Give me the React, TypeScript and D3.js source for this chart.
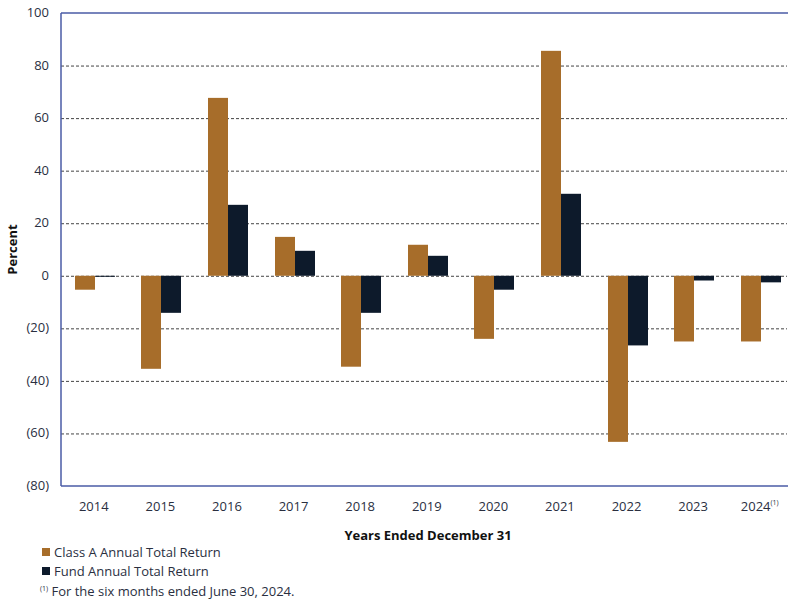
import React, { useEffect, useRef } from 'react';
import * as d3 from 'd3';

const years = ['2014', '2015', '2016', '2017', '2018', '2019', '2020', '2021', '2022', '2023', '2024'];
const classA = [-5.3, -35.4, 67.7, 14.8, -34.6, 11.8, -24.0, 85.6, -63.2, -25.0, -25.0];
const fund = [-0.3, -14.1, 27.0, 9.5, -14.1, 7.6, -5.3, 31.2, -26.5, -1.8, -2.5];
const yTicks = [100, 80, 60, 40, 20, 0, -20, -40, -60, -80];

const seriesNames = ['Class A Annual Total Return', 'Fund Annual Total Return'];
const colors = ['#A76D2A', '#0D1A2B'];
const font = "'Open Sans', sans-serif";

const App: React.FC = () => {
  const svgRef = useRef<SVGSVGElement>(null);

  useEffect(() => {
    if (!svgRef.current) return;
    const width = 788;
    const height = 599;
    const margin = { top: 13, right: 1, bottom: 113, left: 61 };

    const svg = d3.select(svgRef.current);
    svg.selectAll('*').remove();

    // bands run a little past the right edge, as in the original
    const x = d3.scaleBand()
      .domain(years)
      .range([61.5, 794]);

    const y = d3.scaleLinear()
      .domain([-80, 100])
      .range([height - margin.bottom, margin.top]);

    const barW = 20;

    // grid lines
    svg.append('g')
      .selectAll('line')
      .data(yTicks.filter(t => t !== 100 && t !== -80))
      .join('line')
      .attr('x1', margin.left)
      .attr('x2', width - margin.right)
      .attr('y1', d => y(d) + 0.5)
      .attr('y2', d => y(d) + 0.5)
      .attr('stroke', '#444')
      .attr('stroke-width', 1)
      .attr('stroke-dasharray', '3,2');

    const data = years.map((yr, i) => ({ yr, a: classA[i], f: fund[i] }));

    // bars
    [classA, fund].forEach((vals, s) => {
      svg.append('g')
        .selectAll('rect')
        .data(data)
        .join('rect')
        .attr('x', d => Math.round(x(d.yr)! + x.bandwidth() / 2) - barW + s * barW)
        .attr('width', barW)
        .attr('y', (d, i) => y(Math.max(0, vals[i])))
        .attr('height', (d, i) => Math.max(1, Math.abs(y(vals[i]) - y(0))))
        .attr('fill', colors[s]);
    });

    // frame
    const frame = svg.append('g').attr('stroke', '#4A5BA6').attr('stroke-width', 1.5);
    frame.append('line')
      .attr('x1', margin.left).attr('x2', margin.left)
      .attr('y1', y(100)).attr('y2', y(-80));
    frame.append('line')
      .attr('x1', margin.left).attr('x2', width)
      .attr('y1', y(100)).attr('y2', y(100));
    frame.append('line')
      .attr('x1', margin.left).attr('x2', width)
      .attr('y1', y(-80)).attr('y2', y(-80));

    // y tick labels
    svg.append('g')
      .selectAll('text')
      .data(yTicks)
      .join('text')
      .attr('x', 49)
      .attr('y', d => y(d) + 4)
      .attr('text-anchor', 'end')
      .attr('font-family', font)
      .attr('font-size', 13)
      .attr('fill', '#2A2F3F')
      .text(d => (d < 0 ? `(${-d})` : `${d}`));

    // x tick labels
    const xl = svg.append('g')
      .selectAll('text')
      .data(years)
      .join('text')
      .attr('x', d => x(d)! + x.bandwidth() / 2 - 1)
      .attr('y', 511)
      .attr('text-anchor', 'middle')
      .attr('font-family', font)
      .attr('font-size', 13)
      .attr('fill', '#2A2F3F');
    xl.text(d => d);
    xl.filter(d => d === '2024')
      .append('tspan')
      .attr('dy', -6)
      .attr('font-size', 7)
      .text('(1)');

    // axis titles
    svg.append('text')
      .attr('transform', `translate(17,${y(10)}) rotate(-90)`)
      .attr('text-anchor', 'middle')
      .attr('font-family', font)
      .attr('font-weight', 'bold')
      .attr('font-size', 13)
      .attr('fill', '#111')
      .text('Percent');

    svg.append('text')
      .attr('x', 428)
      .attr('y', 540)
      .attr('text-anchor', 'middle')
      .attr('font-family', font)
      .attr('font-weight', 'bold')
      .attr('font-size', 13)
      .attr('fill', '#111')
      .text('Years Ended December 31');

    // legend
    const leg = svg.append('g')
      .selectAll('g')
      .data(seriesNames)
      .join('g')
      .attr('transform', (d, i) => `translate(42,${547 + i * 19})`);
    leg.append('rect')
      .attr('width', 8).attr('height', 8)
      .attr('y', 1)
      .attr('fill', (d, i) => colors[i]);
    leg.append('text')
      .attr('x', 12)
      .attr('y', 10)
      .attr('font-family', font)
      .attr('font-size', 13)
      .attr('fill', '#2A2F3F')
      .text(d => d);

    const foot = svg.append('text')
      .attr('x', 40)
      .attr('y', 596)
      .attr('font-family', font)
      .attr('font-size', 13)
      .attr('fill', '#2A2F3F');
    foot.append('tspan').attr('font-size', 7).attr('dy', -5).text('(1)');
    foot.append('tspan').attr('dy', 5).text(' For the six months ended June 30, 2024.');
  }, []);

  return (
    <svg ref={svgRef} width={788} height={599} style={{ position: 'absolute', left: 0, top: 0 }} />
  );
};

export default App;
